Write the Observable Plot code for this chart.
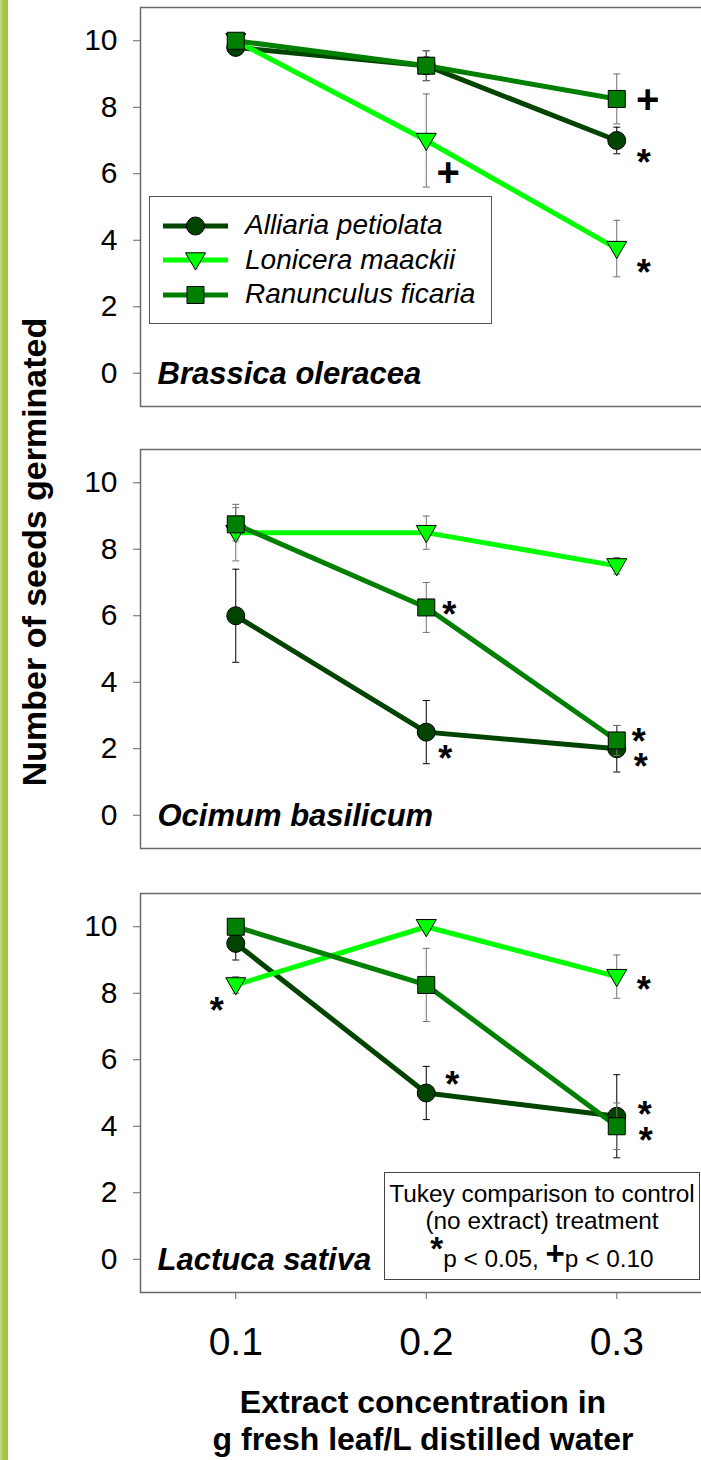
<!DOCTYPE html>
<html>
<head>
<meta charset="utf-8">
<script src="https://cdn.jsdelivr.net/npm/d3@7"></script>
<script src="https://cdn.jsdelivr.net/npm/@observablehq/plot@0.6"></script>
<style>
html, body { margin: 0; padding: 0; background: #fff; overflow: hidden; }
#page { position: relative; width: 701px; height: 1460px; overflow: hidden; font-family: "Liberation Sans", Arial, sans-serif; color: #000; background: #fff; }
.strip { position: absolute; left: 0; top: 0; width: 8px; height: 1460px; background: linear-gradient(to right, #c6dc8c 0px, #b3d060 2px, #a4c73f 4px, #9fc43a 8px); }
.panel { position: absolute; left: 0; }
.panel svg { max-width: none !important; }
.panel g[aria-label^="y-axis"] path, .panel g[aria-label^="x-axis"] path,
.panel g[aria-label^="y-axis"] line, .panel g[aria-label^="x-axis"] line { stroke: #666; }
#legend { position: absolute; left: 149px; top: 196px; width: 343px; height: 128px; box-sizing: border-box; border: 1.5px solid #555; background: #fff; display: flex; flex-direction: column; justify-content: center; padding-left: 13px; }
#legend .row { height: 34.5px; display: flex; align-items: center; }
#legend .row span { margin-left: 17px; font-size: 28px; font-style: italic; line-height: 34.5px; white-space: nowrap; }
#tukey { position: absolute; left: 384px; top: 1172px; width: 316px; height: 108px; box-sizing: border-box; border: 1.5px solid #444; background: #fff; }
#tukey .ln { position: absolute; left: 0; right: 0; text-align: center; font-size: 24.4px; line-height: 24px; white-space: nowrap; }
#tukey .big { font-size: 33px; font-weight: bold; line-height: 0; position: relative; }
.ytitle { position: absolute; left: -265.8px; top: 535px; width: 600px; height: 34px; line-height: 34px; font-size: 34px; font-weight: bold; text-align: center; transform: rotate(-90deg); white-space: nowrap; }
.xtitle { position: absolute; left: 123px; width: 600px; text-align: center; font-size: 32px; line-height: 32px; font-weight: bold; white-space: nowrap; }
</style>
</head>
<body>
<div id="page">
  <div class="strip"></div>
  <div id="p0" class="panel"></div>
  <div id="p1" class="panel"></div>
  <div id="p2" class="panel"></div>
  <div id="legend"></div>
  <div id="tukey">
    <div class="ln" style="top:9px">Tukey comparison to control</div>
    <div class="ln" style="top:36px">(no extract) treatment</div>
    <div class="ln" style="top:74px"><span class="big" style="top:-7px">*</span>p &lt; 0.05, <span class="big" style="top:-2px">+</span>p &lt; 0.10</div>
  </div>
  <div class="ytitle">Number of seeds germinated</div>
  <div class="xtitle" style="top:1386px">Extract concentration in</div>
  <div class="xtitle" style="top:1423px">g fresh leaf/L distilled water</div>
</div>
<script>
// ---------------- DATA ----------------
const concentrations = [0.1, 0.2, 0.3];
const species = ["Alliaria petiolata", "Lonicera maackii", "Ranunculus ficaria"];
const panels = ["Brassica oleracea", "Ocimum basilicum", "Lactuca sativa"];
const xTicks = [0.1, 0.2, 0.3];
const yTicks = [0, 2, 4, 6, 8, 10];

// mean number of seeds germinated: rows = species, columns = concentrations
const meansBrassica = [[9.8, 9.25, 7.0], [10.0, 7.0, 3.75], [10.0, 9.25, 8.25]];
const meansOcimum   = [[6.0, 2.5, 2.0], [8.5, 8.5, 7.5], [8.75, 6.25, 2.25]];
const meansLactuca  = [[9.5, 5.0, 4.3], [8.25, 10.0, 8.5], [10.0, 8.25, 4.0]];
// error bar half-lengths
const errorsBrassica = [[0.15, 0.45, 0.4], [0, 1.4, 0.85], [0, 0.45, 0.75]];
const errorsOcimum   = [[1.4, 0.95, 0.7], [0.85, 0.5, 0.25], [0.5, 0.75, 0.45]];
const errorsLactuca  = [[0.5, 0.8, 1.25], [0.25, 0, 0.65], [0, 1.1, 0.7]];

// significance marks (Tukey comparison to control)
const annotPanel   = [0, 0, 0, 0, 1, 1, 1, 1, 2, 2, 2, 2, 2];
const annotSpecies = [2, 0, 1, 1, 2, 0, 2, 0, 1, 1, 0, 0, 2];
const annotConc    = [0.3, 0.3, 0.2, 0.3, 0.2, 0.2, 0.3, 0.3, 0.1, 0.3, 0.2, 0.3, 0.3];
const annotSymbol  = ["+", "*", "+", "*", "*", "*", "*", "*", "*", "*", "*", "*", "*"];

// ---------------- LAYOUT / STYLE ----------------
const annotOffsets = [[31,0],[27,14],[22,32],[27,16],[23,-1],[19,18],[22,-7],[24,10],[-19,18],[27,5],[26,-17],[28,-10],[29,6]];
const colors = ["#004400", "#00ff00", "#007f00"];
const errColors = ["#000000", "#707070", "#707070"];
const panelTops = [7, 449, 893];
const panelH = 399;

const circleSym = {draw(ctx, size) { const r = Math.sqrt(size / Math.PI); ctx.moveTo(r, 0); ctx.arc(0, 0, r, 0, 2 * Math.PI); ctx.closePath(); }};
const squareSym = {draw(ctx, size) { const h = Math.sqrt(size / Math.PI); ctx.moveTo(-h, -h); ctx.lineTo(h, -h); ctx.lineTo(h, h); ctx.lineTo(-h, h); ctx.closePath(); }};
const triDownSym = {draw(ctx, size) { const r = Math.sqrt(size / Math.PI); ctx.moveTo(-r, -0.72 * r); ctx.lineTo(r, -0.72 * r); ctx.lineTo(0, r); ctx.closePath(); }};
const capSym = {draw(ctx, size) { const h = Math.sqrt(size / Math.PI); ctx.moveTo(-h, 0); ctx.lineTo(h, 0); }};
const symbols = [circleSym, triDownSym, squareSym];
const symR = [9, 10, 8.5];

const allMeans = [meansBrassica, meansOcimum, meansLactuca];
const allErrors = [errorsBrassica, errorsOcimum, errorsLactuca];

function panelPlot(pi) {
  const means = allMeans[pi], errs = allErrors[pi];
  const rows = [];
  species.forEach((sp, si) => concentrations.forEach((c, ci) =>
    rows.push({species: sp, si, conc: c, value: means[si][ci], err: errs[si][ci]})));
  const marks = [Plot.frame({stroke: "#6a6a6a", strokeWidth: 1.5})];
  species.forEach((sp, si) => {
    const d = rows.filter(r => r.si === si);
    const e = d.filter(r => r.err > 0);
    marks.push(Plot.ruleX(e, {x: "conc", y1: r => r.value - r.err, y2: r => r.value + r.err, stroke: errColors[si], strokeWidth: 1}));
    marks.push(Plot.dot(e, {x: "conc", y: r => r.value - r.err, symbol: capSym, r: 3.5, stroke: errColors[si], fill: "none", strokeWidth: 1}));
    marks.push(Plot.dot(e, {x: "conc", y: r => r.value + r.err, symbol: capSym, r: 3.5, stroke: errColors[si], fill: "none", strokeWidth: 1}));
    marks.push(Plot.line(d, {x: "conc", y: "value", stroke: colors[si], strokeWidth: 5, strokeLinecap: "butt", strokeLinejoin: "miter"}));
    marks.push(Plot.dot(d, {x: "conc", y: "value", symbol: symbols[si], r: symR[si], fill: colors[si], stroke: "#000", strokeWidth: 1}));
  });
  annotPanel.forEach((p, ai) => {
    if (p !== pi) return;
    const si = annotSpecies[ai];
    const ci = concentrations.indexOf(annotConc[ai]);
    const sym = annotSymbol[ai];
    const fs = sym === "+" ? 40 : 36;
    const k = sym === "+" ? 0.34 : 0.57;
    const [ox, oy] = annotOffsets[ai];
    marks.push(Plot.text([{conc: annotConc[ai], value: means[si][ci], sym}], {
      x: "conc", y: "value", text: "sym", dx: ox, dy: oy + k * fs,
      fontSize: fs, fontWeight: "bold", lineAnchor: "bottom", textAnchor: "middle", fill: "#000"
    }));
  });
  marks.push(Plot.text([panels[pi]], {
    text: d => d, frameAnchor: "bottom-left", dx: 17, dy: -23, lineAnchor: "bottom", textAnchor: "start",
    fontSize: 31, fontWeight: "bold", fontStyle: "italic", fill: "#000"
  }));
  if (pi === 2) {
    marks.push(Plot.text(xTicks, {
      x: d => d, text: d => d.toFixed(1), frameAnchor: "bottom", dy: 35, lineAnchor: "top",
      textAnchor: "middle", fontSize: 39, fill: "#000"
    }));
  }
  const mt = 2, mb = pi === 2 ? 80 : 2;
  const plot = Plot.plot({
    width: 712, height: mt + panelH + mb,
    marginLeft: 140, marginRight: 0.5, marginTop: mt, marginBottom: mb,
    x: {domain: [0.05, 0.35], axis: pi === 2 ? "bottom" : null, ticks: xTicks, tickFormat: () => "", tickSize: 7, label: null},
    y: {domain: [-1, 11], ticks: yTicks, tickSize: 7, tickPadding: 16, label: null},
    style: {fontSize: "30px", fontFamily: "Liberation Sans, Arial, sans-serif", color: "#000", background: "transparent", overflow: "visible", maxWidth: "none"},
    marks
  });
  const host = document.getElementById("p" + pi);
  host.style.top = (panelTops[pi] - mt) + "px";
  host.appendChild(plot);
}
[0, 1, 2].forEach(panelPlot);

// legend
const legend = d3.select("#legend");
species.forEach((sp, si) => {
  const row = legend.append("div").attr("class", "row");
  const sw = row.append("svg").attr("width", 65).attr("height", 22).style("overflow", "visible");
  sw.append("line").attr("x1", 0).attr("x2", 65).attr("y1", 11).attr("y2", 11)
    .attr("stroke", colors[si]).attr("stroke-width", 5);
  const p = d3.path();
  symbols[si].draw(p, symR[si] * symR[si] * Math.PI);
  sw.append("path").attr("d", p.toString()).attr("transform", "translate(32.5,11)")
    .attr("fill", colors[si]).attr("stroke", "#000").attr("stroke-width", 1);
  row.append("span").text(sp);
});
</script>
</body>
</html>
